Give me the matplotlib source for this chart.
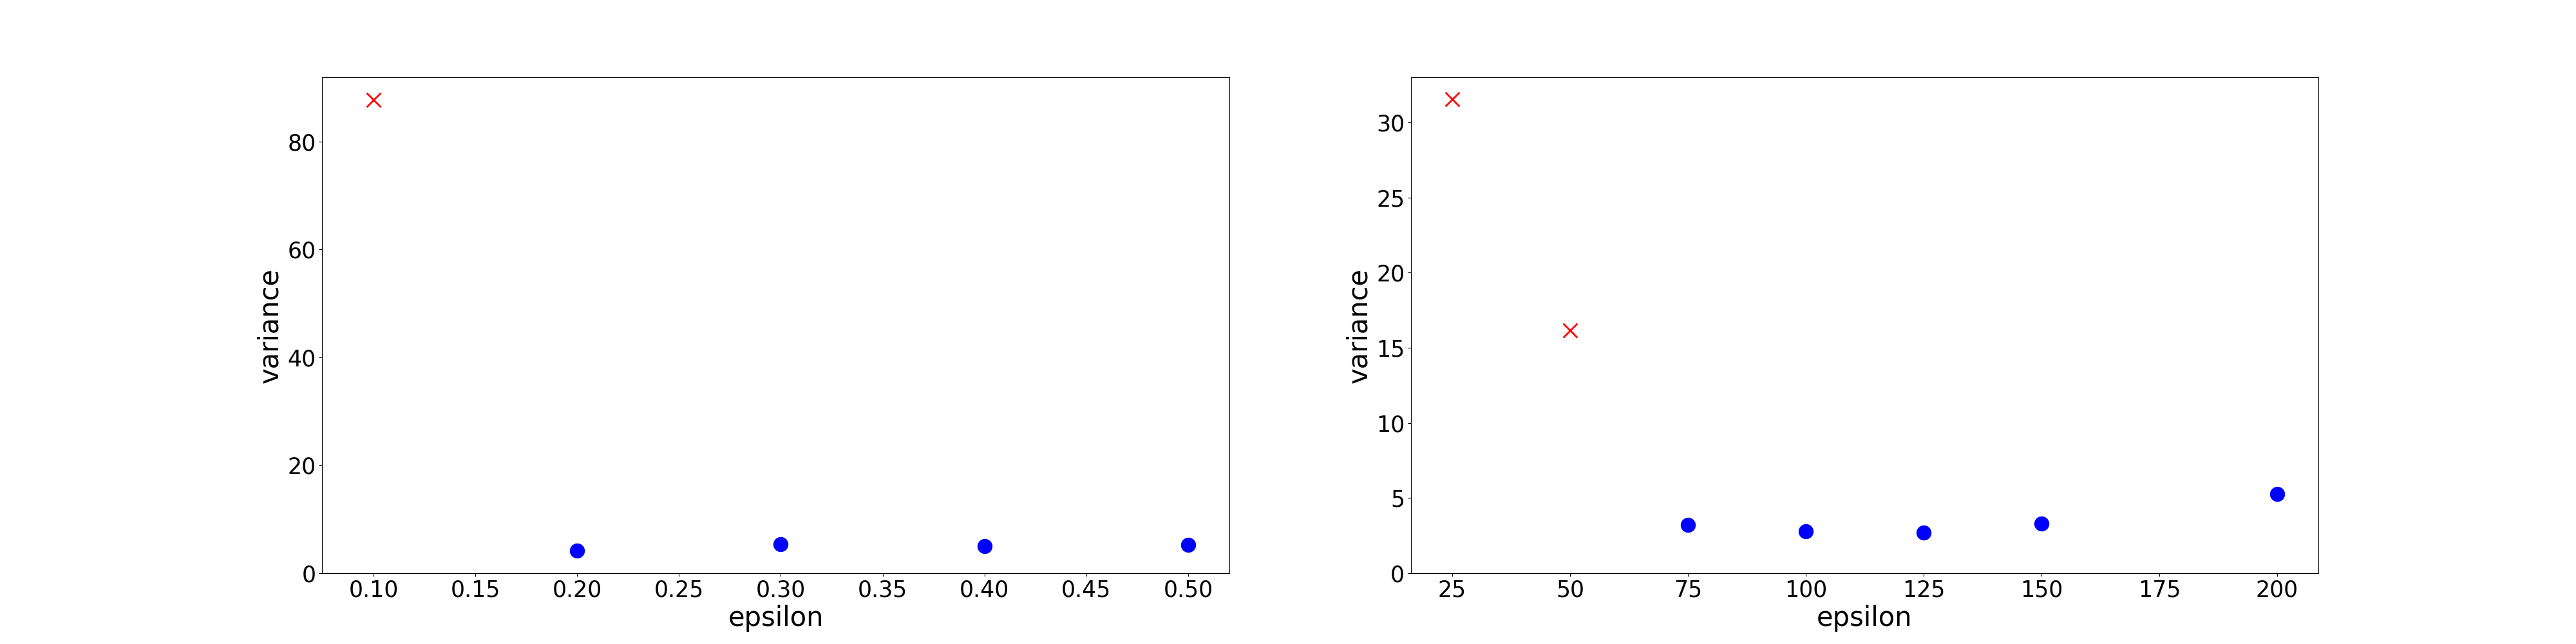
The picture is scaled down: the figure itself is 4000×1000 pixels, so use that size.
import matplotlib
matplotlib.use("Agg")
import matplotlib.pyplot as plt

# Left panel
eps_left = [0.1, 0.2, 0.3, 0.4, 0.5]
var_left = [87.75, 4.12, 5.35, 5.0, 5.2]
outlier_left = [True, False, False, False, False]

# Right panel
eps_right = [25, 50, 75, 100, 125, 150, 200]
var_right = [31.55, 16.17, 3.20, 2.79, 2.69, 3.30, 5.27]
outlier_right = [True, True, False, False, False, False, False]

fig, axes = plt.subplots(1, 2, figsize=(40, 10), dpi=100)

for ax, xs, ys, outs in [(axes[0], eps_left, var_left, outlier_left),
                         (axes[1], eps_right, var_right, outlier_right)]:
    xo = [x for x, o in zip(xs, outs) if o]
    yo = [y for y, o in zip(ys, outs) if o]
    xn = [x for x, o in zip(xs, outs) if not o]
    yn = [y for y, o in zip(ys, outs) if not o]
    ax.scatter(xo, yo, marker='x', color='red', s=250, linewidths=2)
    ax.scatter(xn, yn, marker='o', color='blue', s=250)
    ax.set_ylim(bottom=0)
    ax.set_xlabel('epsilon', fontsize=30)
    ax.set_ylabel('variance', fontsize=30)
    ax.tick_params(labelsize=25)

axes[0].set_xlim(0.0747, 0.5203)
axes[0].set_xticks([0.10, 0.15, 0.20, 0.25, 0.30, 0.35, 0.40, 0.45, 0.50])
axes[1].set_xticks([25, 50, 75, 100, 125, 150, 175, 200])

fig.savefig('out.png', dpi=100)
